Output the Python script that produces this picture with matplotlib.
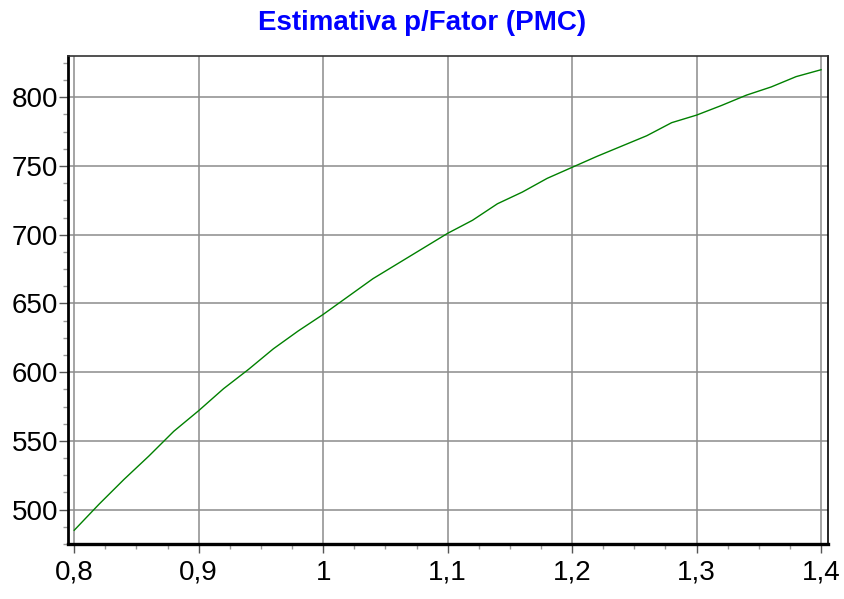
import matplotlib
matplotlib.use('Agg')
import matplotlib.pyplot as plt
from matplotlib.ticker import MultipleLocator, FuncFormatter

# Values
fator = [0.80, 0.82, 0.84, 0.86, 0.88, 0.90, 0.92, 0.94, 0.96, 0.98,
         1.00, 1.02, 1.04, 1.06, 1.08, 1.10, 1.12, 1.14, 1.16, 1.18,
         1.20, 1.22, 1.24, 1.26, 1.28, 1.30, 1.32, 1.34, 1.36, 1.38, 1.40]
estimativa = [485, 504, 522, 539, 557, 572, 588, 602, 617, 630,
              642, 655, 668, 679, 690, 701, 710.5, 722.5, 731, 741,
              749, 757, 764.5, 772, 781.5, 787, 794, 801.5, 807.5, 815, 820]

titulo = 'Estimativa p/Fator (PMC)'

plt.rcParams['font.family'] = ['Liberation Sans', 'DejaVu Sans']

fig = plt.figure(figsize=(8.45, 5.99), dpi=100)
ax = fig.add_axes([68 / 845, 1 - 544 / 599, (828 - 68) / 845, (544 - 56) / 599])

ax.plot(fator, estimativa, color='#008000', linewidth=1.0, zorder=3)

ax.set_xlim(0.795, 1.4056)
ax.set_ylim(475, 830)

ax.xaxis.set_major_locator(MultipleLocator(0.1))
ax.xaxis.set_minor_locator(MultipleLocator(0.025))
ax.yaxis.set_major_locator(MultipleLocator(50))
ax.yaxis.set_minor_locator(MultipleLocator(12.5))


def virgula(v, pos):
    s = f'{v:.1f}'.rstrip('0').rstrip('.')
    return s.replace('.', ',')


ax.xaxis.set_major_formatter(FuncFormatter(virgula))
ax.yaxis.set_major_formatter(FuncFormatter(lambda v, p: f'{v:.0f}'))

ax.grid(which='major', color='#8c8c8c', linewidth=1.1)
ax.set_axisbelow(True)

ax.tick_params(which='major', length=6.5, width=1.0, color='#555555',
               labelsize=20, top=False, right=False)
ax.tick_params(axis='y', which='major', pad=0.5)
ax.tick_params(axis='x', which='major', pad=5)
ax.tick_params(which='minor', length=3.5, width=1.0, color='#999999',
               top=False, right=False)

ax.spines['left'].set_linewidth(2.0)
ax.spines['bottom'].set_linewidth(2.4)
ax.spines['top'].set_linewidth(1.2)
ax.spines['top'].set_color('#333333')
ax.spines['right'].set_linewidth(1.2)
ax.spines['left'].set_color('black')
ax.spines['bottom'].set_color('black')

fig.text(0.5, 1 - 23 / 599, titulo, color='#0000ff', fontsize=20,
         fontweight='bold', ha='center', va='center')

fig.savefig('out.png', dpi=100)
